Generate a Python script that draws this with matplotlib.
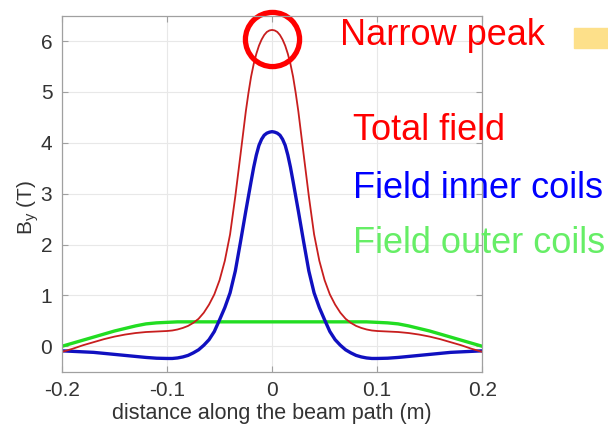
import matplotlib
matplotlib.use('Agg')
from matplotlib import pyplot as plt
from matplotlib.patches import Rectangle

plt.rcParams['font.family'] = ['Liberation Sans', 'DejaVu Sans']
plt.rcParams['mathtext.fontset'] = 'custom'
plt.rcParams['mathtext.rm'] = 'Liberation Sans'

# positions along the beam path (m)
dist = [-0.2, -0.19, -0.18, -0.17, -0.16, -0.15, -0.14, -0.13, -0.12, -0.11,
        -0.10, -0.095, -0.09, -0.085, -0.08, -0.075, -0.07, -0.065, -0.06, -0.055,
        -0.05, -0.045, -0.04, -0.035, -0.03, -0.0275, -0.025, -0.0225, -0.02, -0.0175,
        -0.015, -0.0125, -0.01, -0.0075, -0.005, -0.0025, 0.0,
        0.0025, 0.005, 0.0075, 0.01, 0.0125, 0.015, 0.0175, 0.02, 0.0225, 0.025,
        0.0275, 0.03, 0.035, 0.04, 0.045, 0.05, 0.055, 0.06, 0.065, 0.07,
        0.075, 0.08, 0.085, 0.09, 0.095, 0.10, 0.11, 0.12, 0.13, 0.14,
        0.15, 0.16, 0.17, 0.18, 0.19, 0.2]

# By (T)
total_field = [-0.11, -0.05, 0.02, 0.08, 0.14, 0.19, 0.23, 0.26, 0.28, 0.29,
               0.30, 0.31, 0.33, 0.36, 0.40, 0.46, 0.54, 0.66, 0.82, 1.02,
               1.30, 1.68, 2.20, 2.95, 3.78, 4.20, 4.62, 4.98, 5.30, 5.55,
               5.75, 5.91, 6.03, 6.12, 6.18, 6.21, 6.22,
               6.21, 6.18, 6.12, 6.03, 5.91, 5.75, 5.55, 5.30, 4.98, 4.62,
               4.20, 3.78, 2.95, 2.20, 1.68, 1.30, 1.02, 0.82, 0.66, 0.54,
               0.46, 0.40, 0.36, 0.33, 0.31, 0.30, 0.29, 0.28, 0.26, 0.23,
               0.19, 0.14, 0.08, 0.02, -0.05, -0.11]
inner_coils = [-0.09, -0.10, -0.11, -0.12, -0.14, -0.16, -0.18, -0.20, -0.22, -0.235,
               -0.24, -0.24, -0.23, -0.21, -0.18, -0.13, -0.07, 0.02, 0.13, 0.29,
               0.52, 0.76, 1.05, 1.48, 2.06, 2.36, 2.66, 2.95, 3.24, 3.52,
               3.76, 3.95, 4.07, 4.15, 4.19, 4.21, 4.22,
               4.21, 4.19, 4.15, 4.07, 3.95, 3.76, 3.52, 3.24, 2.95, 2.66,
               2.36, 2.06, 1.48, 1.05, 0.76, 0.52, 0.29, 0.13, 0.02, -0.07,
               -0.13, -0.18, -0.21, -0.23, -0.24, -0.24, -0.235, -0.22, -0.20, -0.18,
               -0.16, -0.14, -0.12, -0.11, -0.10, -0.09]
outer_coils = [0.0, 0.06, 0.12, 0.18, 0.24, 0.30, 0.35, 0.40, 0.44, 0.46,
               0.47, 0.475, 0.48, 0.48, 0.48, 0.48, 0.48, 0.48, 0.48, 0.48,
               0.48, 0.48, 0.48, 0.48, 0.48, 0.48, 0.48, 0.48, 0.48, 0.48,
               0.48, 0.48, 0.48, 0.48, 0.48, 0.48, 0.48,
               0.48, 0.48, 0.48, 0.48, 0.48, 0.48, 0.48, 0.48, 0.48, 0.48,
               0.48, 0.48, 0.48, 0.48, 0.48, 0.48, 0.48, 0.48, 0.48, 0.48,
               0.48, 0.48, 0.48, 0.48, 0.475, 0.47, 0.46, 0.44, 0.40, 0.35,
               0.30, 0.24, 0.18, 0.12, 0.06, 0.0]

xticks = [-0.2, -0.1, 0, 0.1, 0.2]
xticklabels = ['-0.2', '-0.1', '0', '0.1', '0.2']
yticks = [0, 1, 2, 3, 4, 5, 6]

fig = plt.figure(figsize=(6.08, 4.29), dpi=100)
ax = fig.add_axes([0.102, 0.1336, 0.691, 0.8298])

ax.plot(dist, outer_coils, color='#22dd22', lw=2.4, solid_joinstyle='round')
ax.plot(dist, inner_coils, color='#1010c0', lw=2.4, solid_joinstyle='round')
ax.plot(dist, total_field, color='#c81e1e', lw=1.3, solid_joinstyle='round')

ax.set_xlim(-0.2, 0.2)
ax.set_ylim(-0.5, 6.5)
ax.set_xticks(xticks)
ax.set_xticklabels(xticklabels)
ax.set_yticks(yticks)
ax.grid(True, color='#e8e8e8', lw=0.8)
ax.set_axisbelow(True)
for s in ax.spines.values():
    s.set_color('#a0a0a0')
    s.set_linewidth(0.9)
ax.tick_params(direction='in', length=4, width=0.8, color='#a0a0a0',
               top=True, right=True, labelsize=15, labelcolor='#333333')
ax.tick_params(axis='x', pad=7)
ax.tick_params(axis='y', pad=7)
ax.set_xlabel('distance along the beam path (m)', fontsize=15.5, color='#333333', labelpad=2)
fig.text(0.046, 0.5175, r'B$_\mathregular{y}$ (T)', rotation=90, ha='center', va='center',
         fontsize=15, color='#333333')

# peak marker
ax.plot([0], [6.05], 'o', ms=39, mfc='none', mec='#ff0000', mew=3.8, clip_on=False)

# annotations
fig.text(340 / 608, 1 - 45 / 429, 'Narrow peak', color='#ff0000', fontsize=26, va='baseline')
fig.text(353 / 608, 1 - 140 / 429, 'Total field', color='#ff0000', fontsize=26, va='baseline')
fig.text(353 / 608, 1 - 198 / 429, 'Field inner coils', color='#0000ff', fontsize=26, va='baseline')
fig.text(353 / 608, 1 - 253 / 429, 'Field outer coils', color='#66ee66', fontsize=26, va='baseline')
fig.patches.append(Rectangle((574 / 608, 1 - 48 / 429), 40 / 608, 20 / 429,
                             transform=fig.transFigure, color='#fde08a', zorder=0))

fig.savefig('out.png', dpi=100)
